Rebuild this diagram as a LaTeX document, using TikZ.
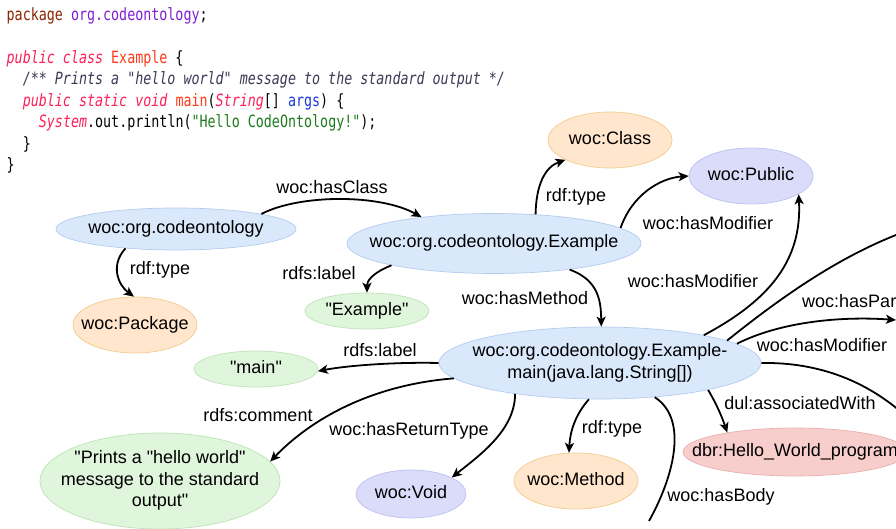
\documentclass[tikz,border=0pt]{standalone}
\usepackage{fontspec}
\setmainfont{Liberation Sans}
\newfontfamily\codefont[FakeStretch=0.79]{DejaVu Sans Mono}
\usetikzlibrary{shapes.geometric,arrows.meta}
\definecolor{kwpk}{HTML}{8B2500}
\definecolor{kwpur}{HTML}{7F1FD6}
\definecolor{kwred}{HTML}{FF1F5A}
\definecolor{kworg}{HTML}{FF3A1A}
\definecolor{kwcom}{HTML}{3A3A55}
\definecolor{kwblu}{HTML}{1A3BD6}
\definecolor{kwgrn}{HTML}{1E7B1E}
\definecolor{fBlue}{HTML}{DAE8FC}\definecolor{sBlue}{HTML}{B4CCEE}
\definecolor{fOra}{HTML}{FFE6CC}\definecolor{sOra}{HTML}{F2CC8E}
\definecolor{fGrn}{HTML}{E0F6DC}\definecolor{sGrn}{HTML}{BFE3B8}
\definecolor{fPur}{HTML}{DADCFA}\definecolor{sPur}{HTML}{BCC0F0}
\definecolor{fRed}{HTML}{F8CECC}\definecolor{sRed}{HTML}{EAB0AE}
\newcommand{\zt}[1]{\makebox[0pt]{\begin{tabular}{@{}c@{}}#1\end{tabular}}}
\newcommand{\cf}{\codefont\fontsize{16.9}{20}\selectfont}
\newcommand{\qq}{\textquotedbl}
\tikzset{
  el/.style 2 args={ellipse, inner sep=0pt, minimum width=#1, minimum height=#2, line width=0.7pt},
  nblue/.style={el={#1}, fill=fBlue, draw=sBlue},
  nora/.style={el={#1}, fill=fOra, draw=sOra},
  ngrn/.style={el={#1}, fill=fGrn, draw=sGrn},
  npur/.style={el={#1}, fill=fPur, draw=sPur},
  nred/.style={el={#1}, fill=fRed, draw=sRed},
  rel/.style={-{Stealth[length=10pt,width=9pt,inset=2.5pt]}, line width=1.8pt},
  plain/.style={line width=1.8pt},
  lbl/.style={inner sep=0pt},
  codeline/.style={anchor=base west, inner sep=0pt, font=\cf}
}
\begin{document}
\begin{tikzpicture}[x=1pt,y=-1pt,font=\fontsize{18}{21.5}\selectfont]
\useasboundingbox (0,0) rectangle (896,529);
\fill[white] (0,0) rectangle (896,529);
\clip (0,0) rectangle (896,529);

% code
\node[codeline] (c1) at (6.5,21) {\textcolor{kwpk}{package} \textcolor{kwpur}{org.codeontology};};
\node[codeline] (c3) at (6.5,63.5) {\textcolor{kwred}{\itshape public class} \textcolor{kworg}{Example} \{};
\node[codeline] (c4) at (22.6,85) {\textcolor{kwcom}{\itshape /** Prints a "hello world" message to the standard output */}};
\node[codeline] (c5) at (22.6,106.5) {\textcolor{kwred}{\itshape public static void} \textcolor{kworg}{main}(\textcolor{kwred}{\itshape String}[] \textcolor{kwblu}{args}) \{};
\node[codeline] (c6) at (38.7,128) {\textcolor{kwred}{\itshape System}.out.println(\textcolor{kwgrn}{"Hello CodeOntology!"});};
\node[codeline] (c7) at (22.6,149.5) {\}};
\node[codeline] (c8) at (6.5,171) {\}};

% nodes
\node[nblue={240pt}{42pt}] (pkg0) at (176,229) {\zt{woc:org.codeontology}};
\node[nora={124pt}{56pt}] (pkgT) at (135,325) {\zt{woc:Package}};
\node[nblue={294pt}{60pt}] (cls) at (494,243.5) {\zt{woc:org.codeontology.Example}};
\node[ngrn={124pt}{36pt}] (exl) at (367,311) {\zt{\qq Example\qq}};
\node[nora={124pt}{56pt}] (clsT) at (610,140) {\zt{woc:Class}};
\node[npur={124pt}{56pt}] (pub) at (751,176) {\zt{woc:Public}};
\node[nblue={322pt}{72pt}] (mth) at (600,363) {\zt{woc:org.codeontology.Example-\\main(java.lang.String[])}};
\node[ngrn={124pt}{36pt}] (mainl) at (256,369) {\zt{\qq main\qq}};
\node[ngrn={240pt}{96pt}] (cmt) at (160,481) {\zt{\qq Prints a \qq hello world\qq\\message to the standard\\output\qq}};
\node[npur={110pt}{48pt}] (void) at (411,494) {\zt{woc:Void}};
\node[nora={124pt}{56pt}] (mthT) at (576,481) {\zt{woc:Method}};
\node[nred={224pt}{48pt}] (dbr) at (795,452) {\zt{dbr:Hello\_World\_program}};

% free ends
\coordinate (cTR) at (915,228);
\coordinate (cHP) at (896,320);
\coordinate (cLR) at (910,420);
\coordinate (cHB) at (649,521);

% connectors
\draw[rel] (pkg0.10) .. controls (300,194) and (380,194) .. (cls.160);
\draw[rel] (pkg0.-159) .. controls (110,265) and (118,285) .. (pkgT.92);
\draw[rel] (cls.-168) .. controls (370,274) and (367,282) .. (exl.90);
\draw[rel] (cls.35) .. controls (536,185) and (545,167) .. (clsT.-156);
\draw[rel] (cls.7) .. controls (632,195) and (660,178) .. (pub.180);
\draw[rel] (cls.-19) .. controls (598,280) and (601,300) .. (mth.88);
\draw[rel] (mth.15) .. controls (770,300) and (802,260) .. (pub.-21);
\draw[plain] (mth.10) .. controls (790,290) and (850,250) .. (cTR);
\draw[rel] (mth.8) .. controls (780,322) and (840,316) .. (cHP);
\draw[plain] (mth.0) .. controls (820,362) and (870,382) .. (cLR);
\draw[rel] (mth.180) .. controls (400,362) and (350,365) .. (mainl.-2);
\draw[rel] (mth.186) .. controls (370,385) and (310,420) .. (cmt.10);
\draw[rel] (mth.-160) .. controls (515,430) and (480,455) .. (void.22);
\draw[rel] (mth.-107) .. controls (575,415) and (570,432) .. (mthT.104);
\draw[plain] (mth.-32) .. controls (690,420) and (672,480) .. (cHB);
\draw[rel] (mth.-14) .. controls (717,405) and (722,417) .. (dbr.164);

% labels
\node[lbl] (lHC) at (332,187) {woc:hasClass};
\node[lbl] (lRT1) at (160,270) {rdf:type};
\node[lbl] (lRL1) at (319,273) {rdfs:label};
\node[lbl] (lRL2) at (380,350) {rdfs:label};
\node[lbl] (lRT2) at (576,197) {rdf:type};
\node[lbl] (lHM1) at (708,223) {woc:hasModifier};
\node[lbl] (lHM2) at (693,281) {woc:hasModifier};
\node[lbl] (lHMe) at (525,298) {woc:hasMethod};
\node[lbl,anchor=west] (lHP) at (802,301) {woc:hasParameter};
\node[lbl] (lHM3) at (822,345) {woc:hasModifier};
\node[lbl] (lRC) at (258,415) {rdfs:comment};
\node[lbl] (lHR) at (409,431) {woc:hasReturnType};
\node[lbl] (lRT3) at (612,429) {rdf:type};
\node[lbl] (lDA) at (800,403) {dul:associatedWith};
\node[lbl] (lHB) at (721,497) {woc:hasBody};
\end{tikzpicture}
\end{document}
